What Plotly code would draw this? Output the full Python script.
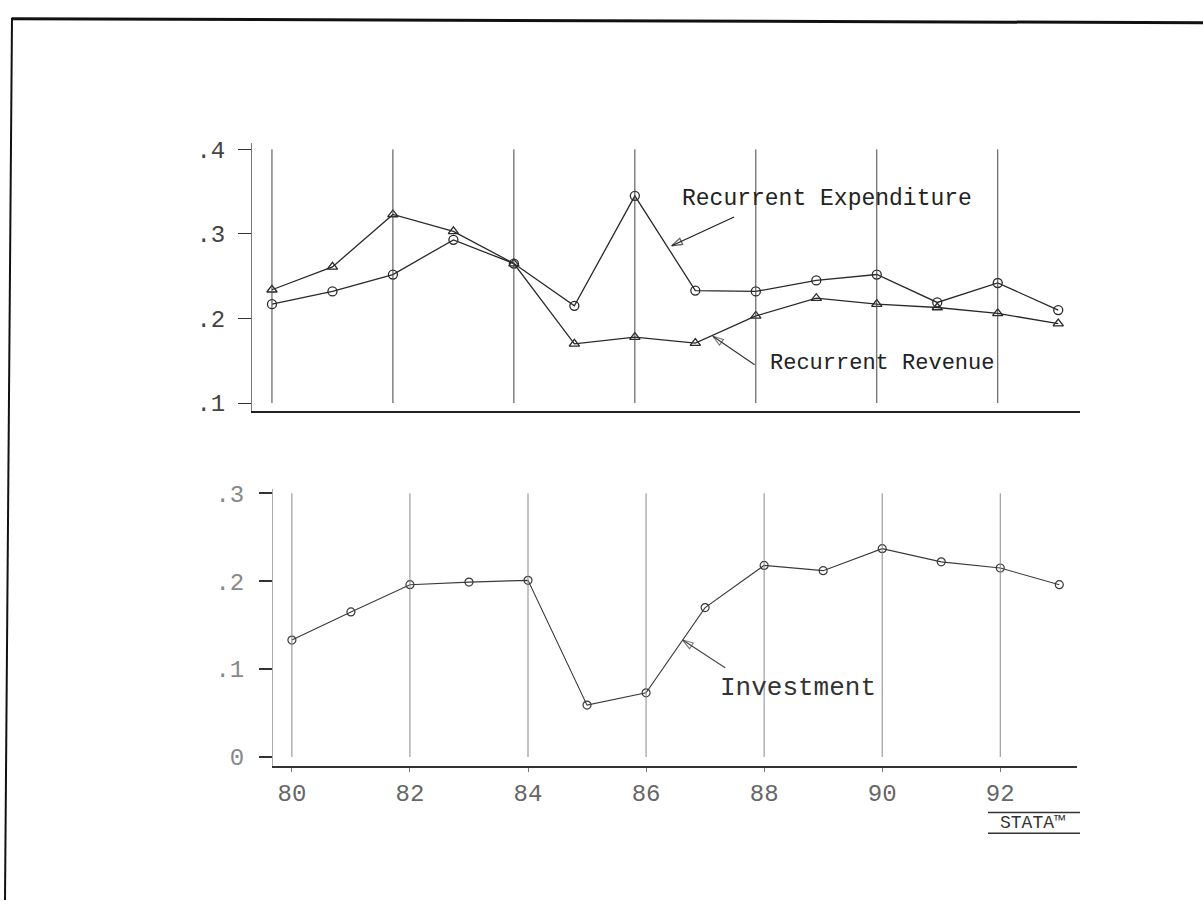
import plotly.graph_objects as go

W, H = 1203, 908

years = list(range(80, 94))
expenditure = [0.217, 0.232, 0.252, 0.293, 0.265, 0.215, 0.345, 0.233, 0.232, 0.245, 0.252, 0.219, 0.242, 0.210]
revenue = [0.234, 0.261, 0.323, 0.303, 0.265, 0.170, 0.178, 0.171, 0.203, 0.224, 0.217, 0.213, 0.206, 0.194]
investment = [0.133, 0.165, 0.196, 0.199, 0.201, 0.059, 0.073, 0.170, 0.218, 0.212, 0.237, 0.222, 0.215, 0.196]

grid_years = [80, 82, 84, 86, 88, 90, 92]
x_tick_text = ["80", "82", "84", "86", "88", "90", "92"]
top_y_ticks = [0.1, 0.2, 0.3, 0.4]
top_y_text = [".1", ".2", ".3", ".4"]
bot_y_ticks = [0.0, 0.1, 0.2, 0.3]
bot_y_text = ["0", ".1", ".2", ".3"]

FONT = "Liberation Mono"
LINE = "#2a2a2a"


def px_x(p):
    return p / W


def px_y(p):
    return 1 - p / H


fig = go.Figure()

fig.add_trace(go.Scatter(
    x=years, y=expenditure, mode="lines+markers", xaxis="x", yaxis="y",
    line=dict(color=LINE, width=1.3),
    marker=dict(symbol="circle-open", size=9, color=LINE, line=dict(width=1.3)),
    showlegend=False, name="Recurrent Expenditure"))
fig.add_trace(go.Scatter(
    x=years, y=revenue, mode="lines+markers", xaxis="x", yaxis="y",
    line=dict(color=LINE, width=1.3),
    marker=dict(symbol="triangle-up-open", size=9, color=LINE, line=dict(width=1.3)),
    showlegend=False, name="Recurrent Revenue"))
fig.add_trace(go.Scatter(
    x=years, y=investment, mode="lines+markers", xaxis="x2", yaxis="y2",
    line=dict(color="#3a3a3a", width=1.1),
    marker=dict(symbol="circle-open", size=8, color="#3a3a3a", line=dict(width=1.2)),
    showlegend=False, name="Investment"))

# label pointer arrows (tail -> tip)
arrows = [
    ("x", "y", (87.64, 0.320), (86.61, 0.286), "#222222", 1.3),
    ("x", "y", (87.98, 0.1453), (87.29, 0.179), "#333333", 1.1),
    ("x2", "y2", (87.34, 0.1015), (86.62, 0.133), "#444444", 1.1),
]
for xa, ya, tail, tip, col, w in arrows:
    fig.add_trace(go.Scatter(
        x=[tail[0], tip[0]], y=[tail[1], tip[1]], xaxis=xa, yaxis=ya,
        mode="lines+markers", line=dict(color=col, width=w),
        marker=dict(symbol=["circle", "arrow-open"], size=[1, 11], color=col,
                    angleref="previous", line=dict(color=col, width=w)),
        showlegend=False, hoverinfo="skip"))

shapes = []
# vertical grid lines
for g in grid_years:
    shapes.append(dict(type="line", xref="x", yref="y", x0=g, x1=g,
                       y0=top_y_ticks[0], y1=top_y_ticks[-1],
                       line=dict(color="#444444", width=1)))
    shapes.append(dict(type="line", xref="x2", yref="y2", x0=g, x1=g,
                       y0=bot_y_ticks[0], y1=bot_y_ticks[-1],
                       line=dict(color="#8a8a8a", width=1)))

# page frame (scanned page border)
shapes.append(dict(type="line", xref="paper", yref="paper",
                   x0=px_x(12), y0=px_y(11), x1=px_x(1203), y1=px_y(15),
                   line=dict(color="#111111", width=3)))
shapes.append(dict(type="line", xref="paper", yref="paper",
                   x0=px_x(12), y0=px_y(10), x1=px_x(5), y1=px_y(908),
                   line=dict(color="#111111", width=2)))
# stata logo rules
for py in (819, 840):
    shapes.append(dict(type="line", xref="paper", yref="paper",
                       x0=px_x(988), y0=px_y(py), x1=px_x(1080), y1=px_y(py),
                       line=dict(color="#333333", width=1.5)))

annotations = [
    dict(xref="x", yref="y", x=86.74, y=0.341, text="Recurrent Expenditure",
         showarrow=False, xanchor="left", yanchor="middle",
         font=dict(family=FONT, size=23, color="#222222")),
    dict(xref="x", yref="y", x=88.2, y=0.1465, text="Recurrent Revenue",
         showarrow=False, xanchor="left", yanchor="middle",
         font=dict(family=FONT, size=22, color="#222222")),
    dict(xref="x2", yref="y2", x=87.22, y=0.078, text="Investment",
         showarrow=False, xanchor="left", yanchor="middle",
         font=dict(family=FONT, size=26, color="#333333")),
    dict(xref="paper", yref="paper", x=px_x(1032), y=px_y(830),
         text="STATA™", showarrow=False, xanchor="center", yanchor="middle",
         font=dict(family=FONT, size=18, color="#333333")),
]

fig.update_layout(
    width=W, height=H,
    margin=dict(l=0, r=0, t=0, b=0),
    paper_bgcolor="white", plot_bgcolor="white",
    shapes=shapes, annotations=annotations,
    xaxis=dict(domain=[px_x(252), px_x(1080)], range=[79.67, 93.36],
               anchor="y", showgrid=False, zeroline=False,
               showline=True, linecolor="#222222", linewidth=2,
               tickvals=grid_years, ticktext=x_tick_text, showticklabels=False,
               ticks=""),
    yaxis=dict(domain=[px_y(410), px_y(137)], range=[0.0909, 0.408],
               anchor="x", showgrid=False, zeroline=False,
               showline=True, linecolor="#777777", linewidth=1,
               tickvals=top_y_ticks, ticktext=top_y_text,
               ticks="outside", ticklen=13, tickcolor="#333333", tickwidth=1.3,
               ticklabelstandoff=8,
               tickfont=dict(family=FONT, size=24, color="#444444")),
    xaxis2=dict(domain=[px_x(273), px_x(1077)], range=[79.68, 93.3],
                anchor="y2", showgrid=False, zeroline=False,
                showline=True, linecolor="#333333", linewidth=1.6,
                tickvals=grid_years, ticktext=x_tick_text,
                ticks="outside", ticklen=4, tickcolor="#777777",
                ticklabelstandoff=0,
                tickfont=dict(family=FONT, size=24, color="#666666")),
    yaxis2=dict(domain=[px_y(771.7), px_y(490)], range=[-0.0104, 0.3045],
                anchor="x2", showgrid=False, zeroline=False,
                showline=True, linecolor="#aaaaaa", linewidth=1,
                tickvals=bot_y_ticks, ticktext=bot_y_text,
                ticks="outside", ticklen=13, tickcolor="#333333", tickwidth=1.6,
                ticklabelstandoff=10,
                tickfont=dict(family=FONT, size=24, color="#888888")),
)

fig.write_html("out.html")
